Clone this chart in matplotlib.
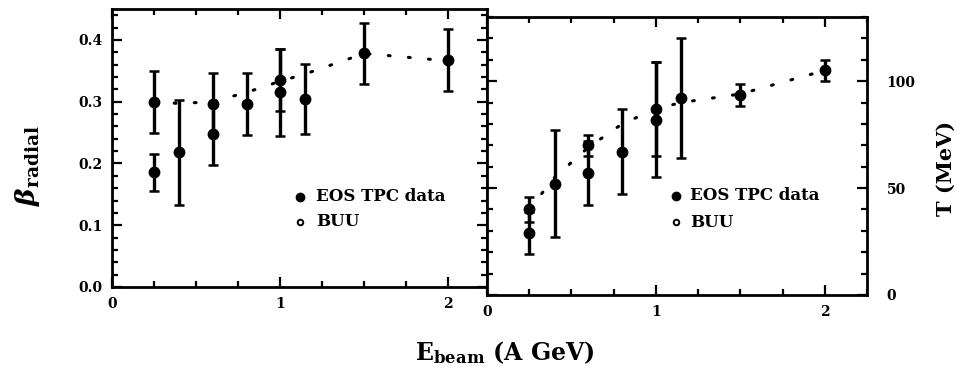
import matplotlib
matplotlib.use("Agg")
import matplotlib.pyplot as plt
from matplotlib.ticker import MultipleLocator, FixedLocator
import numpy as np

plt.rcParams['font.family'] = ['DejaVu Serif']
plt.rcParams['font.weight'] = 'bold'
plt.rcParams['mathtext.fontset'] = 'dejavuserif'

# ---- left panel: beta_radial ----
beta_data_x = [0.25, 0.4, 0.6, 1.0, 1.15]
beta_data_y = [0.186, 0.218, 0.247, 0.315, 0.304]
beta_data_lo = [0.030, 0.085, 0.050, 0.070, 0.057]
beta_data_hi = [0.030, 0.085, 0.050, 0.070, 0.057]

beta_buu_x = [0.25, 0.6, 0.8, 1.0, 1.5, 2.0]
beta_buu_y = [0.300, 0.297, 0.296, 0.335, 0.378, 0.367]
beta_buu_err = [0.050, 0.050, 0.050, 0.050, 0.050, 0.050]

beta_curve_x = [0.25, 0.4, 0.6, 0.8, 1.0, 1.15, 1.5, 2.0]
beta_curve_y = [0.300, 0.297, 0.300, 0.315, 0.333, 0.345, 0.378, 0.366]

# ---- right panel: T (MeV) ----
T_data_x = [0.25, 0.4, 0.6, 0.8, 1.0, 1.15]
T_data_y = [29, 52, 57, 67, 82, 92]
T_data_err = [10, 25, 15, 20, 27, 28]

T_buu_x = [0.25, 0.6, 1.0, 1.5, 2.0]
T_buu_y = [40, 70, 87, 93.5, 105]
T_buu_err = [6, 5, 22, 5, 5]

T_curve_x = [0.25, 0.4, 0.6, 0.8, 1.0, 1.15, 1.5, 2.0]
T_curve_y = [40, 55, 69, 80, 87, 90, 94, 105]

W, H = 964, 387
fig = plt.figure(figsize=(W / 100, H / 100), dpi=100)

def axbox(x0, y0, x1, y1):
    return [x0 / W, 1 - y1 / H, (x1 - x0) / W, (y1 - y0) / H]

axL = fig.add_axes(axbox(112, 9, 487, 287))
axR = fig.add_axes(axbox(487, 17, 867, 295))

eb_kw = dict(fmt='o', color='black', ms=7.5, elinewidth=2.4, capsize=3.5,
             capthick=1.8, zorder=3)
dot_kw = dict(color='black', lw=2.2, linestyle=(0, (0.6, 6)),
              dash_capstyle='round', zorder=2)

# left
axL.plot(beta_curve_x, beta_curve_y, **dot_kw)
axL.errorbar(beta_data_x, beta_data_y, yerr=[beta_data_lo, beta_data_hi], **eb_kw)
axL.errorbar(beta_buu_x, beta_buu_y, yerr=beta_buu_err, **eb_kw)
axL.set_xlim(0, 2.23)
axL.set_ylim(0, 0.45)
axL.yaxis.set_major_locator(FixedLocator([0.0, 0.1, 0.2, 0.3, 0.4]))
axL.yaxis.set_minor_locator(MultipleLocator(0.02))
axL.set_yticklabels(['0.0', '0.1', '0.2', '0.3', '0.4'])

# right
axR.plot(T_curve_x, T_curve_y, **dot_kw)
axR.errorbar(T_data_x, T_data_y, yerr=T_data_err, **eb_kw)
axR.errorbar(T_buu_x, T_buu_y, yerr=T_buu_err, **eb_kw)
axR.set_xlim(0, 2.25)
axR.set_ylim(0, 130)
axR.yaxis.set_major_locator(FixedLocator([0, 50, 100]))
axR.yaxis.set_minor_locator(MultipleLocator(10))
axR.yaxis.tick_right()
axR.yaxis.set_label_position('right')

for ax in (axL, axR):
    ax.xaxis.set_major_locator(FixedLocator([0, 1, 2]))
    ax.xaxis.set_minor_locator(MultipleLocator(0.25))
    ax.set_xticklabels(['0', '1', '2'])
    ax.tick_params(which='both', direction='in', top=True, bottom=True,
                   left=True, right=True, width=1.6)
    ax.tick_params(which='major', length=7, labelsize=10, pad=7)
    ax.tick_params(which='minor', length=4)
    for s in ax.spines.values():
        s.set_linewidth(2.0)
    for lab in ax.get_xticklabels() + ax.get_yticklabels():
        lab.set_fontweight('bold')

axR.tick_params(axis='y', which='both', labelleft=False, labelright=True, pad=14)

# legends (manual)
for ax, mx, tx, y1, y2 in ((axL, 0.501, 0.545, 0.324, 0.234),
                           (axR, 0.497, 0.535, 0.357, 0.262)):
    ax.plot([mx], [y1], 'o', color='black', ms=6, transform=ax.transAxes)
    ax.plot([mx], [y2], 'o', mfc='white', mec='black', mew=1.4, ms=4,
            transform=ax.transAxes)
    ax.text(tx, y1, 'EOS TPC data', transform=ax.transAxes, fontsize=12,
            fontweight='bold', va='center', ha='left')
    ax.text(tx, y2, 'BUU', transform=ax.transAxes, fontsize=12,
            fontweight='bold', va='center', ha='left')

fig.text(27 / W, 1 - 166 / H, r'$\boldsymbol{\beta}_{\mathbf{radial}}$',
         rotation=90, fontsize=19, ha='center', va='center')
fig.text(946 / W, 1 - 168 / H, 'T (MeV)', rotation=90, fontsize=15,
         fontweight='bold', ha='center', va='center')
fig.text(505 / W, 1 - 353 / H, r'$\mathbf{E}_{\mathbf{beam}}$ (A GeV)',
         fontsize=17, fontweight='bold', ha='center', va='center')

fig.savefig('out.png', dpi=100)
